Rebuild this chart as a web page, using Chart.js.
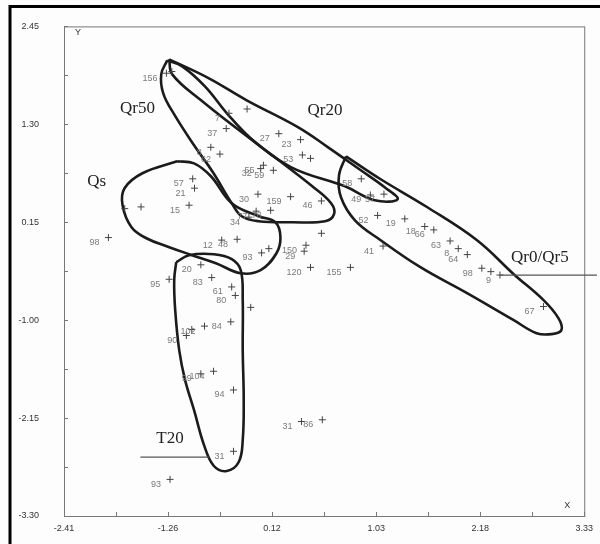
<!DOCTYPE html>
<html>
<head>
<meta charset="utf-8">
<script src="https://cdn.jsdelivr.net/npm/chart.js@4.4.1/dist/chart.umd.min.js"></script>
<style>
  html, body { margin: 0; padding: 0; background: #fff; }
  #wrap { width: 600px; height: 544px; }
</style>
</head>
<body>
<div id="wrap"><canvas id="chart" width="600" height="544"></canvas></div>
<script>
// axis labels as printed on the scan
const xTickLabels = ["-2.41", "-1.26", "0.12", "1.03", "2.18", "3.33"];
const yTickLabels = ["-3.30", "-2.15", "-1.00", "0.15", "1.30", "2.45"];

// sample points (number label, x, y)
const pointLabels = ["156", "", "7", "", "37", "8", "62", "27", "23", "53", "", "32", "55", "59",
  "159", "30", "78", "46", "77", "34", "58", "49", "57", "52", "19", "18", "66", "63", "8", "64",
  "98", "", "9", "67", "41", "155", "120", "150", "29", "", "93", "", "12", "48", "15", "57", "21",
  "", "", "98", "20", "95", "83", "61", "80", "84", "", "102", "", "90", "99", "104", "94", "31",
  "86", "31", "93"];
const pointX = [-1.28, -1.22, -0.59, -0.39, -0.62, -0.79, -0.69, -0.04, 0.20, 0.22, 0.31, -0.24, -0.21, -0.10,
  0.09, -0.27, -0.13, 0.43, -0.29, -0.37, 0.87, 0.97, 1.12, 1.05, 1.35, 1.57, 1.67, 1.85, 1.94, 2.04,
  2.20, 2.30, 2.40, 2.88, 1.11, 0.75, 0.31, 0.26, 0.24, 0.43, -0.23, -0.15, -0.67, -0.50, -1.03, -0.99, -0.97,
  -1.74, -1.56, -1.92, -0.90, -1.25, -0.78, -0.56, -0.52, -0.57, -0.35, -0.86, -1.00, -1.06, -0.90, -0.76, -0.54, 0.21,
  0.44, -0.54, -1.24];
const pointY = [1.90, 1.92, 1.43, 1.48, 1.25, 1.03, 0.95, 1.19, 1.12, 0.94, 0.90, 0.78, 0.82, 0.76,
  0.45, 0.48, 0.29, 0.40, 0.28, 0.21, 0.66, 0.47, 0.48, 0.23, 0.19, 0.10, 0.06, -0.07, -0.16, -0.23,
  -0.39, -0.43, -0.47, -0.84, -0.13, -0.38, -0.38, -0.12, -0.19, 0.02, -0.21, -0.16, -0.06, -0.05, 0.35, 0.66, 0.55,
  0.31, 0.33, -0.03, -0.35, -0.52, -0.50, -0.61, -0.71, -1.02, -0.85, -1.07, -1.11, -1.18, -1.63, -1.60, -1.82, -2.19,
  -2.17, -2.54, -2.87];

// hand drawn group outlines, [x, y] in axis units
const outlineQr50 = [[-1.271, 2.051], [-1.337, 1.887], [-1.315, 1.664], [-1.194, 1.417], [-0.975, 1.054],
  [-0.767, 0.737], [-0.559, 0.373], [-0.449, 0.220], [-0.263, 0.162], [0.109, 0.150], [0.471, 0.162],
  [0.569, 0.244], [0.537, 0.373], [0.329, 0.572], [-0.011, 0.854], [-0.351, 1.136], [-0.603, 1.417],
  [-0.855, 1.746], [-1.106, 1.981]];
const outlineQr20 = [[-1.249, 2.063], [-0.811, 1.840], [-0.394, 1.582], [0.175, 1.265], [0.504, 1.030],
  [0.865, 0.760], [1.128, 0.561], [1.271, 0.420], [1.019, 0.408], [0.690, 0.572], [0.098, 0.795],
  [-0.373, 1.147], [-0.898, 1.582], [-1.216, 1.887]];
const outlineQs = [[-1.161, 0.866], [-1.545, 0.725], [-1.742, 0.549], [-1.764, 0.349], [-1.665, 0.091],
  [-1.501, -0.038], [-1.249, -0.143], [-0.997, -0.237], [-0.734, -0.331], [-0.460, -0.449], [-0.241, -0.413],
  [-0.066, -0.214], [-0.022, -0.026], [-0.077, 0.150], [-0.263, 0.220], [-0.559, 0.373], [-0.789, 0.690],
  [-0.975, 0.842]];
const outlineT20 = [[-1.172, -0.319], [-1.030, -0.237], [-0.756, -0.226], [-0.559, -0.284], [-0.460, -0.413],
  [-0.438, -0.765], [-0.438, -1.352], [-0.427, -1.939], [-0.438, -2.408], [-0.482, -2.666], [-0.614, -2.772],
  [-0.756, -2.713], [-0.865, -2.467], [-0.975, -2.056], [-1.074, -1.704], [-1.139, -1.352], [-1.183, -0.883],
  [-1.194, -0.531]];
const outlineQr0 = [[0.701, 0.924], [1.084, 0.655], [1.599, 0.326], [2.147, -0.061], [2.552, -0.460],
  [2.881, -0.765], [3.045, -0.977], [3.078, -1.117], [2.968, -1.164], [2.804, -1.153], [2.552, -1.000],
  [2.037, -0.683], [1.522, -0.378], [1.084, -0.061], [0.800, 0.173], [0.646, 0.443], [0.624, 0.701]];

// group names and where they sit
const groupNames = ["Qr50", "Qr20", "Qs", "T20", "Qr0/Qr5"];
const groupX = [-1.60, 0.47, -2.05, -1.24, 2.84];
const groupY = [1.48, 1.46, 0.63, -2.39, -0.26];
// pointer lines under T20 and Qr0/Qr5
const leaderLines = [[[-1.567, -2.608], [-0.811, -2.608]], [[2.399, -0.472], [3.47, -0.472]]];

const outlines = [outlineQr50, outlineQr20, outlineQs, outlineT20, outlineQr0];

const points = pointX.map((x, i) => ({ x: x, y: pointY[i] }));

function closed(arr) {
  const pts = arr.map(p => ({ x: p[0], y: p[1] }));
  pts.push({ x: arr[0][0], y: arr[0][1] });
  return pts;
}

const outlineSets = outlines.map(o => ({
  data: closed(o),
  showLine: true,
  pointRadius: 0,
  borderColor: "#1b1b1b",
  borderWidth: 2.6,
  tension: 0.4,
  fill: false
}));

function tenTicks(scale) {
  const step = (scale.max - scale.min) / 10;
  scale.ticks = [];
  for (let i = 0; i <= 10; i++) scale.ticks.push({ value: scale.min + i * step });
}

const decor = {
  id: "decor",
  beforeDraw(chart) {
    const ctx = chart.ctx;
    const a = chart.chartArea;
    ctx.save();
    ctx.fillStyle = "#fdfdfd";
    ctx.fillRect(0, 0, chart.width, chart.height);
    // scan border
    ctx.strokeStyle = "#000";
    ctx.lineWidth = 3;
    ctx.beginPath();
    ctx.moveTo(10, 544);
    ctx.lineTo(10, 6.5);
    ctx.lineTo(600, 6.5);
    ctx.stroke();
    // plot frame
    ctx.strokeStyle = "#777";
    ctx.lineWidth = 1;
    ctx.strokeRect(a.left + 0.5, a.top + 0.5, a.right - a.left, a.bottom - a.top);
    // inward ticks
    ctx.beginPath();
    chart.scales.x.ticks.forEach(t => {
      const px = Math.round(chart.scales.x.getPixelForValue(t.value)) + 0.5;
      ctx.moveTo(px, a.bottom);
      ctx.lineTo(px, a.bottom - 4);
    });
    chart.scales.y.ticks.forEach(t => {
      const py = Math.round(chart.scales.y.getPixelForValue(t.value)) + 0.5;
      ctx.moveTo(a.left, py);
      ctx.lineTo(a.left + 4, py);
    });
    ctx.stroke();
    ctx.fillStyle = "#333";
    ctx.font = "9px Arial, 'Liberation Sans', sans-serif";
    ctx.textAlign = "center";
    ctx.textBaseline = "middle";
    ctx.fillText("Y", a.left + 14, a.top + 6);
    ctx.fillText("X", a.right - 17, a.bottom - 10);
    ctx.restore();
  },
  afterDatasetsDraw(chart) {
    const ctx = chart.ctx;
    const xs = chart.scales.x, ys = chart.scales.y;
    ctx.save();
    // number labels beside each cross
    ctx.fillStyle = "#7a7a7a";
    ctx.font = "9px Arial, 'Liberation Sans', sans-serif";
    ctx.textAlign = "right";
    ctx.textBaseline = "middle";
    pointLabels.forEach((lab, i) => {
      if (!lab) return;
      ctx.fillText(lab, xs.getPixelForValue(pointX[i]) - 9, ys.getPixelForValue(pointY[i]) + 5);
    });
    // pointer lines
    ctx.strokeStyle = "#555";
    ctx.lineWidth = 1.2;
    leaderLines.forEach(l => {
      ctx.beginPath();
      ctx.moveTo(xs.getPixelForValue(l[0][0]), ys.getPixelForValue(l[0][1]));
      ctx.lineTo(xs.getPixelForValue(l[1][0]), ys.getPixelForValue(l[1][1]));
      ctx.stroke();
    });
    // group names
    ctx.fillStyle = "#222";
    ctx.font = "17px 'Liberation Serif', 'Times New Roman', serif";
    ctx.textAlign = "center";
    groupNames.forEach((g, i) => {
      ctx.fillText(g, xs.getPixelForValue(groupX[i]), ys.getPixelForValue(groupY[i]));
    });
    ctx.restore();
  }
};

new Chart(document.getElementById("chart"), {
  type: "scatter",
  data: {
    datasets: [
      {
        data: points,
        pointStyle: "cross",
        pointRadius: 3.5,
        borderColor: "#444",
        borderWidth: 1,
        showLine: false
      },
      ...outlineSets
    ]
  },
  options: {
    responsive: false,
    animation: false,
    devicePixelRatio: 1,
    layout: { padding: { left: 0, right: 12, top: 26, bottom: 0 } },
    plugins: { legend: { display: false }, tooltip: { enabled: false } },
    scales: {
      x: {
        type: "linear",
        min: -2.41,
        max: 3.33,
        afterBuildTicks: tenTicks,
        afterFit(s) { s.height = 28; },
        grid: { display: false, drawTicks: false },
        border: { display: false },
        ticks: {
          autoSkip: false,
          maxRotation: 0,
          padding: 7,
          color: "#333",
          font: { family: "Arial, 'Liberation Sans', sans-serif", size: 9 },
          callback: (v, i) => (i % 2 === 0 ? xTickLabels[i / 2] : "")
        }
      },
      y: {
        type: "linear",
        min: -3.30,
        max: 2.45,
        afterBuildTicks: tenTicks,
        afterFit(s) { s.width = 64; },
        grid: { display: false, drawTicks: true, tickLength: 4 },
        border: { display: false },
        ticks: {
          autoSkip: false,
          padding: 21,
          color: "#333",
          font: { family: "Arial, 'Liberation Sans', sans-serif", size: 9 },
          callback: (v, i) => (i % 2 === 0 ? yTickLabels[i / 2] : "")
        }
      }
    }
  },
  plugins: [decor]
});
</script>
</body>
</html>
